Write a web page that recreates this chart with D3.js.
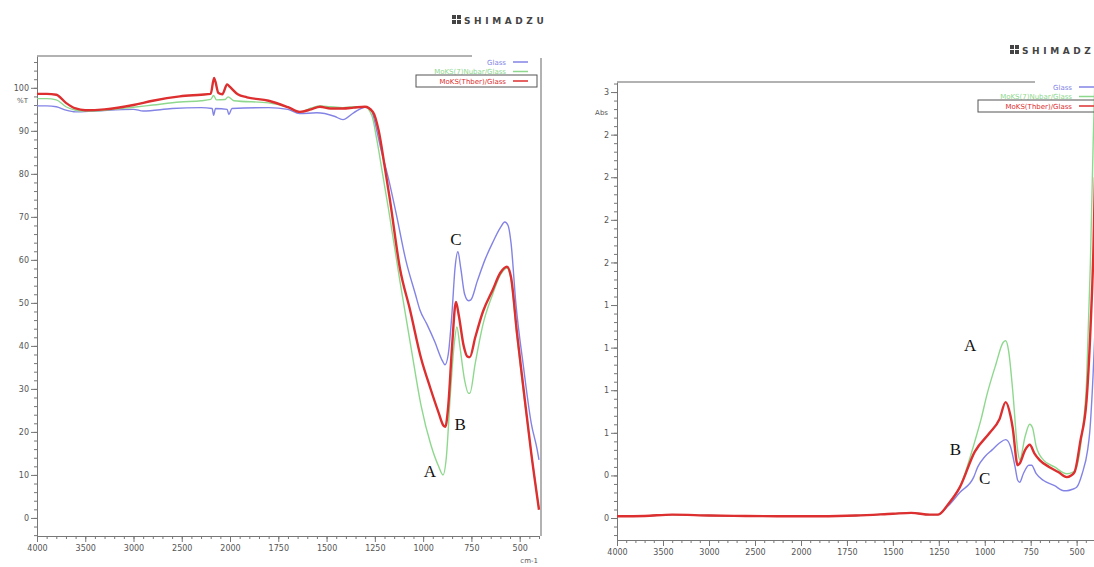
<!DOCTYPE html>
<html>
<head>
<meta charset="utf-8">
<script src="https://cdn.jsdelivr.net/npm/d3@7"></script>
<style>
body{margin:0;background:#fff}
svg{display:block}
.tk text{font-family:"DejaVu Sans",sans-serif;font-size:8px;fill:#555}
.tk line,.tk path{stroke:#777}
</style>
</head>
<body>
<svg id="chart" width="1094" height="567"></svg>
<script>
// tick values
var wnTicks=[4000,3500,3000,2500,2000,1750,1500,1250,1000,750,500];
var tTicks=[0,10,20,30,40,50,60,70,80,90,100];
var absTicks=[0,0.25,0.5,0.75,1,1.25,1.5,1.75,2,2.25,2.5];
var legendNames=["Glass","MoKS(7)Nubar/Glass","MoKS(Thber)/Glass"];
var colors=["#8383e6","#8ed88e","#dd2f2f"];

// left panel, %T   [wavenumber, value]
var tGlass=[[4000,95.8],[3900,95.8],[3800,95.6],[3700,94.8],[3600,94.4],[3400,94.6],[3000,95],[2900,94.6],[2600,95.2],[2300,95.4],[2185,95.2],[2170,93.6],[2150,95.2],[2030,95],[2012,93.8],[1990,95.2],[1800,95.4],[1700,95],[1640,94],[1550,94.2],[1460,93.4],[1415,92.6],[1360,94.2],[1300,95.5],[1270,95],[1250,92],[1220,86],[1180,79],[1136,70],[1090,60],[1040,52],[1017,48.4],[980,45],[940,41],[900,36.5],[887,35.6],[870,38],[850,48],[835,58],[820,61.9],[805,58],[785,52],[765,50.5],[753,50.7],[720,55],[680,60],[640,64],[600,67.5],[577,68.8],[560,68],[545,64],[520,50],[480,35],[440,22],[410,16],[400,13.5]];
var tMoKS=[[4000,97.5],[3900,97.5],[3800,97.2],[3700,95.6],[3600,94.8],[3500,94.6],[3300,94.8],[3000,95.5],[2800,96],[2520,96.7],[2300,97],[2200,97.3],[2170,98.2],[2140,97.2],[2050,97.3],[2020,97.9],[1980,97],[1800,96.5],[1700,95.5],[1638,94.4],[1580,95.3],[1534,95.8],[1480,95.6],[1415,95.4],[1360,95.6],[1301,95.6],[1265,93.5],[1240,88],[1210,80],[1180,72],[1120,55],[1058,38.4],[1010,26],[960,17],[920,12],[897,10],[880,14],[860,28],[840,40],[825,44.4],[810,40],[785,32],[765,29],[758,29],[730,36],[690,45],[640,52],[600,56.5],[566,58.1],[545,55.5],[514,42],[480,29],[440,15],[400,2]];
var tMoKSr=[[4000,98.6],[3900,98.6],[3800,98.4],[3700,96.5],[3600,95.2],[3500,94.8],[3300,95],[3000,96],[2800,97],[2520,98],[2300,98.4],[2200,98.6],[2165,102.3],[2120,98.8],[2080,98.5],[2030,100.8],[2000,100.2],[1960,98.5],[1912,97.8],[1800,97],[1700,95.5],[1638,94.4],[1580,95],[1534,95.6],[1480,95.2],[1415,95.2],[1360,95.4],[1301,95.6],[1260,94.4],[1230,90],[1200,82],[1172,74],[1120,58],[1068,48.4],[1010,37],[965,30.5],[920,24.5],[895,21.5],[885,21.2],[870,26],[850,40],[830,50.2],[815,47],[790,40],[770,37.5],[758,37.4],[730,42],[690,48],[640,53],[600,57],[566,58.4],[545,56],[514,43],[480,30],[440,15],[400,1.9]];

// right panel, Abs
var aGlass=[[4000,0.01],[3700,0.012],[3400,0.02],[3000,0.015],[2600,0.012],[2200,0.01],[2000,0.01],[1700,0.015],[1500,0.025],[1400,0.03],[1300,0.02],[1260,0.02],[1200,0.07],[1136,0.15],[1060,0.24],[1038,0.3],[1000,0.36],[960,0.4],[920,0.44],[886,0.46],[860,0.42],[835,0.3],[820,0.22],[810,0.21],[790,0.26],[760,0.31],[745,0.31],[720,0.26],[680,0.22],[620,0.19],[570,0.16],[554,0.16],[520,0.17],[500,0.18],[470,0.26],[440,0.4],[429,0.5],[410,0.85],[400,1.1]];
var aMoKS=[[4000,0.01],[3700,0.012],[3400,0.02],[3000,0.015],[2600,0.012],[2200,0.01],[2000,0.01],[1700,0.015],[1500,0.025],[1400,0.03],[1300,0.02],[1253,0.02],[1200,0.08],[1136,0.18],[1054,0.45],[1020,0.58],[989,0.72],[940,0.9],[900,1.03],[886,1.04],[870,0.98],[848,0.75],[821,0.4],[810,0.34],[780,0.48],[755,0.55],[740,0.53],[720,0.42],[680,0.34],[620,0.3],[554,0.26],[520,0.27],[500,0.3],[470,0.5],[446,0.8],[425,1.5],[410,2.2],[400,2.6]];
var aMoKSr=[[4000,0.01],[3700,0.012],[3400,0.02],[3000,0.015],[2600,0.012],[2200,0.01],[2000,0.01],[1700,0.015],[1500,0.025],[1400,0.03],[1300,0.02],[1253,0.02],[1200,0.08],[1136,0.18],[1054,0.39],[973,0.5],[920,0.58],[886,0.68],[860,0.6],[848,0.53],[821,0.31],[810,0.32],[780,0.4],[755,0.43],[730,0.38],[701,0.34],[650,0.3],[600,0.27],[554,0.24],[530,0.25],[511,0.27],[480,0.45],[446,0.69],[425,1.1],[408,1.6],[400,2]];

var svg=d3.select('#chart');

function drawPanel(p)
{
	var g=svg.append('g');
	var x=d3.scaleLinear().domain([4000,2000,400]).range(p.xr);
	var y=d3.scaleLinear().domain(p.yd).range([p.bottom,p.top]);

	// minor ticks
	g.append('g').attr('class','tk').attr('transform','translate('+p.xr[0]+',0)')
	.call(d3.axisLeft(y).tickValues(p.yMinor).tickSize(3).tickFormat(''))
	.select('.domain').remove();
	g.append('g').attr('class','tk').attr('transform','translate(0,'+p.bottom+')')
	.call(d3.axisBottom(x).tickValues(d3.range(4000,2000,-100).concat(d3.range(2000,399,-50))).tickSize(3).tickFormat(''))
	.select('.domain').remove();

	// major ticks
	g.append('g').attr('class','tk').attr('transform','translate('+p.xr[0]+',0)')
	.call(d3.axisLeft(y).tickValues(p.yTicks).tickSize(6).tickSizeOuter(0).tickPadding(2).tickFormat(p.fmt));
	g.append('g').attr('class','tk').attr('transform','translate(0,'+p.bottom+')')
	.call(d3.axisBottom(x).tickValues(wnTicks).tickSize(6).tickSizeOuter(0).tickPadding(3).tickFormat(d3.format('d')));

	// frame
	g.append('line').attr('x1',p.xr[0]).attr('x2',p.frameEnd).attr('y1',p.top).attr('y2',p.top)
	.attr('stroke','#999').attr('stroke-width',1.5);
	if(p.rightBorder)
		g.append('line').attr('x1',p.rightBorder).attr('x2',p.rightBorder).attr('y1',p.top+2).attr('y2',p.bottom)
		.attr('stroke','#999').attr('stroke-width',1.5);

	var line=d3.line().x(function(d){return x(d[0]);}).y(function(d){return y(d[1]);}).curve(d3.curveMonotoneX);
	var widths=[1.4,1.4,2.4];
	p.series.forEach(function(s,i){
		g.append('path').datum(s).attr('d',line)
		.attr('fill','none').attr('stroke',colors[i]).attr('stroke-width',widths[i]);
	});

	// legend
	var lx=p.legendX;
	legendNames.forEach(function(n,i){
		var ly=p.legendY+i*9.5;
		if(i==2)
			g.append('rect').attr('x',p.boxX).attr('y',ly-6).attr('width',p.boxW).attr('height',12)
			.attr('fill','none').attr('stroke','#555').attr('stroke-width',1);
		g.append('text').attr('x',lx).attr('y',ly+2.5).attr('text-anchor','end')
		.attr('font-family','DejaVu Sans, sans-serif').attr('font-size',7).attr('fill',colors[i]).text(n);
		g.append('line').attr('x1',lx+7).attr('x2',lx+22).attr('y1',ly).attr('y2',ly)
		.attr('stroke',colors[i]).attr('stroke-width',1.5);
	});

	g.append('text').attr('x',p.unitX).attr('y',p.unitY).attr('text-anchor','end')
	.attr('font-family','DejaVu Sans, sans-serif').attr('font-size',7).attr('fill','#555').text(p.unit);

	// logo
	var lg=g.append('g').attr('transform','translate('+p.logo[0]+','+p.logo[1]+')');
	[[0,0],[5,0],[0,5],[5,5]].forEach(function(c){
		lg.append('rect').attr('x',c[0]).attr('y',c[1]-9).attr('width',4).attr('height',4).attr('fill','#444');
	});
	lg.append('text').attr('x',12).attr('y',0).attr('font-family','DejaVu Sans, sans-serif').attr('font-weight','bold')
	.attr('font-size',9).attr('letter-spacing',3.6).attr('fill','#444').text('SHIMADZU');

	// peak letters
	p.letters.forEach(function(l){
		g.append('text').attr('x',x(l[1])).attr('y',y(l[2])).attr('text-anchor','middle')
		.attr('font-family','Liberation Serif, serif').attr('font-size',17).attr('fill','#111').text(l[0]);
	});
	return g;
}

drawPanel({
	xr:[37,230,539], top:56, bottom:536, yd:[-4.2,107.4],
	yTicks:tTicks, yMinor:d3.range(-4,107,2), fmt:d3.format('d'),
	frameEnd:472, rightBorder:541,
	series:[tGlass,tMoKS,tMoKSr],
	legendX:506, legendY:62, boxX:416, boxW:121,
	unit:'cm-1', unitX:538, unitY:563,
	logo:[452,24],
	letters:[['C',830,63.5],['B',808,20.5],['A',965,9.5]]
});
svg.append('text').attr('x',28).attr('y',103).attr('text-anchor','end')
.attr('font-family','DejaVu Sans, sans-serif').attr('font-size',7).attr('fill','#555').text('%T');

drawPanel({
	xr:[617,801,1095], top:82, bottom:540, yd:[-0.129,2.559],
	yTicks:absTicks, yMinor:d3.range(-0.1,2.56,0.05), fmt:function(d){return Math.round(d);},
	frameEnd:1035, rightBorder:null,
	series:[aGlass,aMoKS,aMoKSr],
	legendX:1072, legendY:87, boxX:978, boxW:120,
	unit:'', unitX:0, unitY:0,
	logo:[1010,54],
	letters:[['A',1080,0.98],['B',1160,0.37],['C',1000,0.2]]
});
svg.append('text').attr('x',608).attr('y',115).attr('text-anchor','end')
.attr('font-family','DejaVu Sans, sans-serif').attr('font-size',7).attr('fill','#555').text('Abs');
</script>
</body>
</html>
